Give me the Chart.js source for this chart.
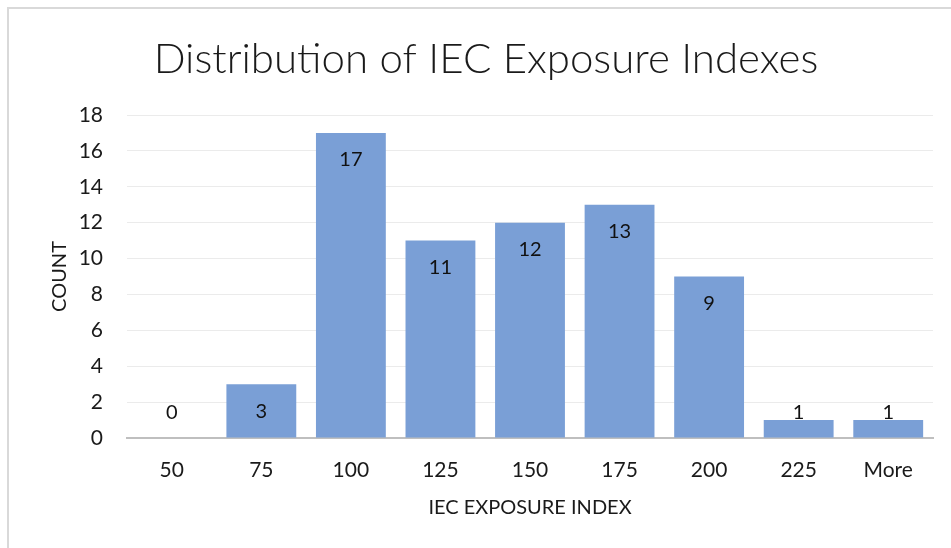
<!DOCTYPE html>
<html>
<head>
<meta charset="utf-8">
<script src="https://cdn.jsdelivr.net/npm/chart.js@4.4.0/dist/chart.umd.min.js"></script>
<style>
  html, body { margin: 0; padding: 0; background: #fff; }
  #wrap { position: relative; width: 951px; height: 548px; overflow: hidden; }
  #frame { position: absolute; left: 7px; top: 7px; width: 1000px; height: 600px; border: 2px solid #d9d9d9; pointer-events: none; }
  canvas { position: absolute; left: 0; top: 0; }
</style>
</head>
<body>
<div id="wrap">
  <canvas id="c" width="951" height="548"></canvas>
  <div id="frame"></div>
</div>
<script>
const categories = ['50', '75', '100', '125', '150', '175', '200', '225', 'More'];
const counts = [0, 3, 17, 11, 12, 13, 9, 1, 1];
const yTicks = [0, 2, 4, 6, 8, 10, 12, 14, 16, 18];
const chartTitle = 'Distribution of IEC Exposure Indexes';
const xTitle = 'IEC EXPOSURE INDEX';
const yTitle = 'COUNT';

const FONT = "Lato, 'Open Sans', 'Noto Sans', sans-serif";

const labelPlugin = {
  id: 'barLabels',
  afterDatasetsDraw(chart) {
    const ctx = chart.ctx;
    const meta = chart.getDatasetMeta(0);
    ctx.save();
    ctx.font = '20px ' + FONT;
    ctx.fillStyle = '#111';
    ctx.textAlign = 'center';
    ctx.textBaseline = 'middle';
    meta.data.forEach((bar, i) => {
      const h = bar.base - bar.y;
      const y = h > 40 ? bar.y + 27 : bar.base - 25;
      ctx.fillText(String(counts[i]), bar.x, y);
    });
    ctx.restore();
  }
};

new Chart(document.getElementById('c'), {
  type: 'bar',
  data: {
    labels: categories,
    datasets: [{
      data: counts,
      backgroundColor: '#7A9FD6',
      borderWidth: 0,
      categoryPercentage: 1,
      barPercentage: 0.78
    }]
  },
  options: {
    responsive: false,
    animation: false,
    layout: { padding: { left: 39, right: 18, top: 0, bottom: 0 } },
    plugins: {
      legend: { display: false },
      tooltip: { enabled: false },
      title: {
        display: true,
        text: chartTitle,
        color: '#1a1a1a',
        font: { family: FONT, size: 42, weight: '300', lineHeight: 1.2 },
        padding: { top: 33.8, bottom: 30.8 }
      }
    },
    scales: {
      x: {
        grid: { display: false, drawTicks: false },
        border: { display: true, color: '#bfbfbf', width: 2 },
        ticks: { color: '#1a1a1a', font: { family: FONT, size: 21 }, padding: 20 },
        title: {
          display: true, text: xTitle, color: '#1a1a1a',
          font: { family: FONT, size: 20, lineHeight: 1.2 },
          padding: { top: 0, bottom: 28 }
        },
        afterFit(scale) { scale.height = 110; }
      },
      y: {
        min: 0, max: 18,
        afterBuildTicks(scale) { scale.ticks = yTicks.map(v => ({ value: v })); },
        grid: { color: '#ebebeb', lineWidth: 1, drawTicks: false },
        border: { display: false },
        ticks: { color: '#1a1a1a', font: { family: FONT, size: 21 }, padding: 24 },
        title: {
          display: true, text: yTitle, color: '#1a1a1a',
          font: { family: FONT, size: 20, lineHeight: 1.2 },
          padding: { top: 9, bottom: 0 }
        },
        afterFit(scale) { scale.width = 88; }
      }
    }
  },
  plugins: [labelPlugin]
});
</script>
</body>
</html>
